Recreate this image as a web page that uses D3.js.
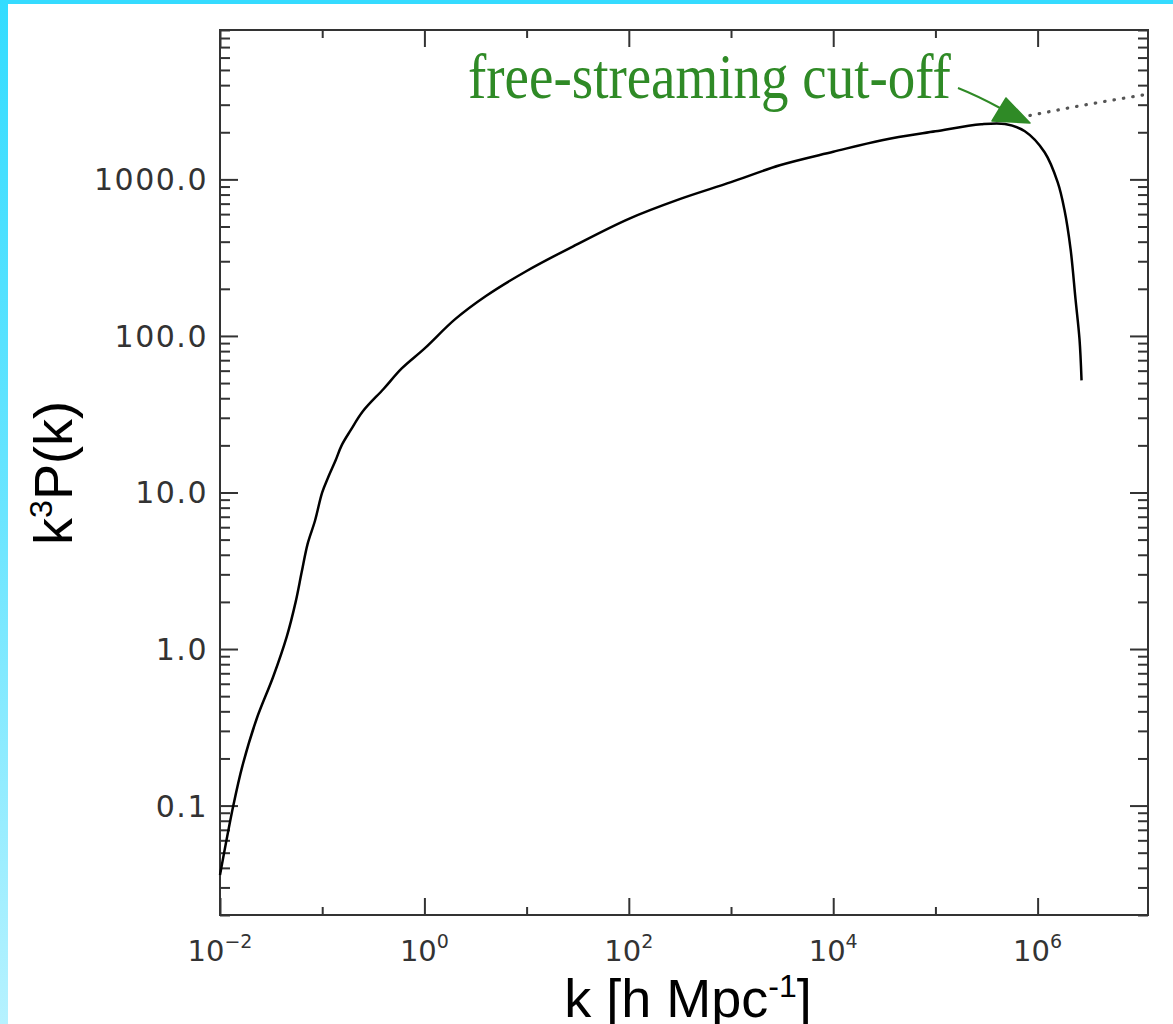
<!DOCTYPE html>
<html>
<head>
<meta charset="utf-8">
<script src="https://cdn.jsdelivr.net/npm/d3@7"></script>
<style>
  html, body { margin: 0; padding: 0; background: #fff; }
  svg { display: block; }
</style>
</head>
<body>
<svg id="chart" width="1173" height="1024"></svg>
<script>
// ---- data ----
const kValues = [0.01, 0.0135, 0.0166, 0.0229, 0.033, 0.045, 0.055, 0.063, 0.072, 0.085, 0.1, 0.115, 0.135, 0.155, 0.19, 0.25, 0.4, 0.6, 1, 2, 4, 10, 30, 100, 300, 1000, 3000, 1e4, 3e4, 1e5, 2.8e5, 4.8e5, 7.5e5, 1.17e6, 1.57e6, 1.83e6, 2.1e6, 2.35e6, 2.57e6, 2.69e6];
const k3P = [0.036, 0.1, 0.18, 0.36, 0.66, 1.2, 2.0, 3.1, 4.7, 6.6, 10.0, 12.6, 16.0, 20.0, 25, 33, 46, 62, 83, 128, 180, 260, 380, 560, 740, 960, 1230, 1500, 1780, 2030, 2250, 2260, 2030, 1490, 960, 640, 360, 171, 95, 52];
const dottedK = [8.4e5, 3e6, 1.2e7];
const dottedP = [2560, 3000, 3500];
const xMajorExps = [-2, 0, 2, 4, 6];
const xMinorExps = [-1, 1, 3, 5];
const yMajorValues = [0.1, 1, 10, 100, 1000];
const yTickLabels = ["0.1", "1.0", "10.0", "100.0", "1000.0"];
const annotationText = "free-streaming cut-off";

// ---- layout ----
const svg = d3.select("#chart");
const L = 220, R = 1148, T = 30, B = 915;

// background frame bands
const defs = svg.append("defs");
const grad = defs.append("linearGradient").attr("id", "band").attr("x1", 0).attr("y1", 0).attr("x2", 0).attr("y2", 1);
grad.append("stop").attr("offset", "0%").attr("stop-color", "#33dcff");
grad.append("stop").attr("offset", "50%").attr("stop-color", "#6ae5ff");
grad.append("stop").attr("offset", "100%").attr("stop-color", "#b6f2ff");
svg.append("rect").attr("x", 0).attr("y", 0).attr("width", 1173).attr("height", 4).attr("fill", "#35dbff");
svg.append("rect").attr("x", 0).attr("y", 0).attr("width", 8).attr("height", 1024).attr("fill", "url(#band)");

const x = d3.scaleLog().domain([1e-2, Math.pow(10, 7.08)]).range([L, R]);
const y = d3.scaleLog().domain([0.02, 9000]).range([B, T]);

const axisColor = "#333";

// y minor tick values
const yMinor = [];
for (let e = -2; e <= 3; e++) for (let m = 2; m <= 9; m++) {
  const v = m * Math.pow(10, e);
  if (v >= 0.02 && v <= 9000) yMinor.push(v);
}

function styleAxis(g) {
  g.select(".domain").remove();
  g.selectAll("line").attr("stroke", axisColor).attr("stroke-width", 2);
  g.selectAll("text").remove();
}

// left axis (ticks inward)
svg.append("g").attr("transform", `translate(${L},0)`)
  .call(d3.axisLeft(y).tickValues(yMajorValues).tickSize(-18).tickFormat("")).call(styleAxis);
svg.append("g").attr("transform", `translate(${L},0)`)
  .call(d3.axisLeft(y).tickValues(yMinor).tickSize(-10).tickFormat("")).call(styleAxis);
// right axis
svg.append("g").attr("transform", `translate(${R},0)`)
  .call(d3.axisRight(y).tickValues(yMajorValues).tickSize(-18).tickFormat("")).call(styleAxis);
svg.append("g").attr("transform", `translate(${R},0)`)
  .call(d3.axisRight(y).tickValues(yMinor).tickSize(-10).tickFormat("")).call(styleAxis);
// bottom axis
svg.append("g").attr("transform", `translate(0,${B})`)
  .call(d3.axisBottom(x).tickValues(xMajorExps.map(e => Math.pow(10, e))).tickSize(-17).tickFormat("")).call(styleAxis);
svg.append("g").attr("transform", `translate(0,${B})`)
  .call(d3.axisBottom(x).tickValues(xMinorExps.map(e => Math.pow(10, e))).tickSize(-8).tickFormat("")).call(styleAxis);
// top axis
svg.append("g").attr("transform", `translate(0,${T})`)
  .call(d3.axisTop(x).tickValues(xMajorExps.map(e => Math.pow(10, e))).tickSize(-17).tickFormat("")).call(styleAxis);
svg.append("g").attr("transform", `translate(0,${T})`)
  .call(d3.axisTop(x).tickValues(xMinorExps.map(e => Math.pow(10, e))).tickSize(-8).tickFormat("")).call(styleAxis);

// frame
svg.append("rect").attr("x", L).attr("y", T).attr("width", R - L).attr("height", B - T)
  .attr("fill", "none").attr("stroke", axisColor).attr("stroke-width", 2);

// y tick labels
svg.append("g").selectAll("text").data(yMajorValues).join("text")
  .attr("x", L - 12).attr("y", d => y(d) + 11)
  .attr("text-anchor", "end")
  .attr("font-family", "DejaVu Sans, Verdana, sans-serif")
  .attr("font-size", 30).attr("letter-spacing", 1.5)
  .attr("fill", "#333")
  .text((d, i) => yTickLabels[i]);

// x tick labels 10^e
const xl = svg.append("g").selectAll("text").data(xMajorExps).join("text")
  .attr("x", d => x(Math.pow(10, d)))
  .attr("y", B + 46)
  .attr("text-anchor", "middle")
  .attr("font-family", "DejaVu Sans, sans-serif")
  .attr("font-size", 29)
  .attr("fill", "#333");
xl.append("tspan").text("10");
xl.append("tspan").attr("dy", -13).attr("font-size", 19)
  .text(d => d < 0 ? "\u2212" + Math.abs(d) : String(d));

// x title
const xt = svg.append("text").attr("x", 688).attr("y", 1017)
  .attr("text-anchor", "middle")
  .attr("font-family", "Liberation Sans, Arial, sans-serif")
  .attr("font-size", 54).attr("fill", "#000");
xt.append("tspan").text("k [h Mpc");
xt.append("tspan").attr("dy", -20).attr("font-size", 32).text("-1");
xt.append("tspan").attr("dy", 20).text("]");

// y title
const yt = svg.append("text")
  .attr("transform", "translate(72,473) rotate(-90)")
  .attr("text-anchor", "middle")
  .attr("font-family", "Liberation Sans, Arial, sans-serif")
  .attr("font-size", 54).attr("fill", "#000");
yt.append("tspan").text("k");
yt.append("tspan").attr("dy", -20).attr("font-size", 32).text("3");
yt.append("tspan").attr("dy", 20).text("P(k)");

// dotted extrapolation
const dotted = dottedK.map((k, i) => ({ k, p: dottedP[i] }));
svg.append("path").datum(dotted)
  .attr("d", d3.line().x(d => x(d.k)).y(d => y(d.p)).curve(d3.curveMonotoneX))
  .attr("fill", "none").attr("stroke", "#555").attr("stroke-width", 3.2)
  .attr("stroke-linecap", "round")
  .attr("stroke-dasharray", "0.5,9");

// main curve
const series = kValues.map((k, i) => ({ k, p: k3P[i] }));
svg.append("path").datum(series)
  .attr("d", d3.line().x(d => x(d.k)).y(d => y(d.p)).curve(d3.curveCatmullRom.alpha(0.5)))
  .attr("fill", "none").attr("stroke", "#000").attr("stroke-width", 2.5)
  .attr("stroke-linejoin", "round");

// annotation
const green = "#2f8a26";
svg.append("text")
  .attr("transform", "translate(468,98) scale(1,1.15)")
  .attr("font-family", "Liberation Serif, Times New Roman, serif")
  .attr("font-size", 55).attr("fill", green)
  .text(annotationText);
svg.append("path")
  .attr("d", "M958,88 Q978,96 1000,108")
  .attr("fill", "none").attr("stroke", green).attr("stroke-width", 2);
svg.append("path")
  .attr("d", "M992,121 L1006,98 L1030,123 Z")
  .attr("fill", green).attr("stroke", green).attr("stroke-width", 1.5).attr("stroke-linejoin", "round");
</script>
</body>
</html>
